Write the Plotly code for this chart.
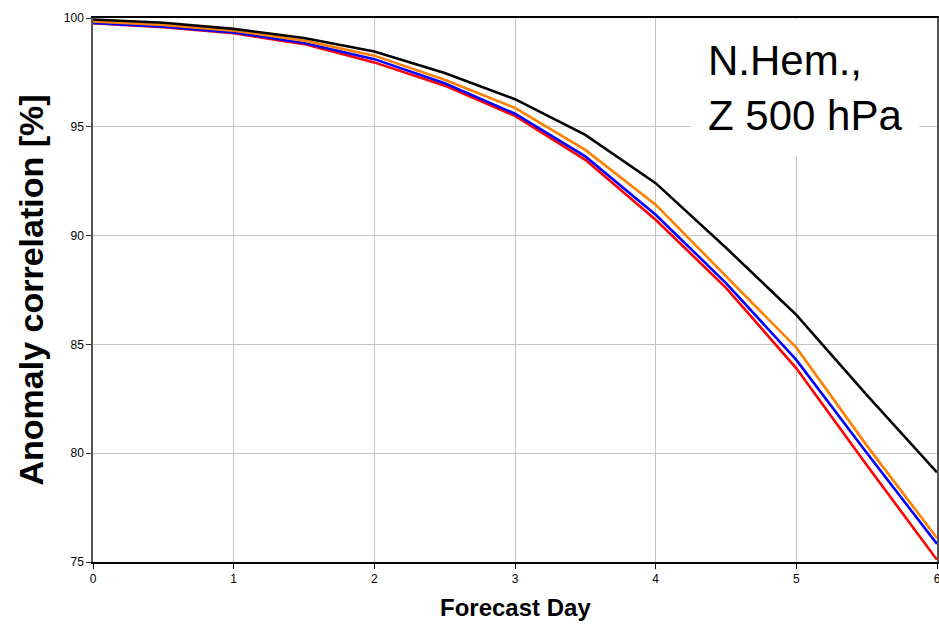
import plotly.graph_objects as go

days = [0, 0.5, 1, 1.5, 2, 2.5, 3, 3.5, 4, 4.5, 5, 5.5, 6]
black_vals = [99.93, 99.78, 99.5, 99.08, 98.46, 97.47, 96.27, 94.63, 92.41, 89.44, 86.36, 82.68, 79.12]
orange_vals = [99.84, 99.68, 99.42, 98.96, 98.27, 97.16, 95.87, 93.94, 91.42, 88.15, 84.85, 80.36, 76.1]
blue_vals = [99.77, 99.6, 99.34, 98.85, 98.11, 97.0, 95.6, 93.64, 90.96, 87.82, 84.29, 80.02, 75.83]
red_vals = [99.76, 99.58, 99.3, 98.8, 97.96, 96.89, 95.5, 93.48, 90.73, 87.6, 83.9, 79.46, 75.1]

series = [
    ("red", red_vals, "#ff0000"),
    ("blue", blue_vals, "#0000ff"),
    ("orange", orange_vals, "#ff8000"),
    ("black", black_vals, "#000000"),
]

x_ticks = [0, 1, 2, 3, 4, 5, 6]
y_ticks = [75, 80, 85, 90, 95, 100]

fig = go.Figure()
for name, vals, col in series:
    fig.add_trace(go.Scatter(x=days, y=vals, mode="lines", name=name,
                             line=dict(color=col, width=2.6), showlegend=False))

tick_font = dict(family="Liberation Sans, Arial", size=12, color="#000000")

fig.update_layout(
    width=939, height=624,
    margin=dict(l=92.5, r=1.5, t=18.3, b=62),
    paper_bgcolor="white", plot_bgcolor="white",
    xaxis=dict(range=[0, 6], tickvals=x_ticks, ticktext=[str(v) for v in x_ticks],
               automargin=False, ticklabeloverflow="allow",
               showgrid=True, gridcolor="#c4c4c4", gridwidth=1,
               showline=True, linecolor="#000000", linewidth=1.5, mirror=True,
               ticks="outside", ticklen=5, tickcolor="#000000",
               tickfont=tick_font, zeroline=False),
    yaxis=dict(range=[75, 100], tickvals=y_ticks, ticktext=[str(v) for v in y_ticks],
               automargin=False,
               showgrid=True, gridcolor="#c4c4c4", gridwidth=1,
               showline=True, linecolor="#555555", linewidth=1.5, mirror=True,
               ticks="outside", ticklen=5, tickcolor="#333333",
               tickfont=tick_font, zeroline=False),
)

fig.add_annotation(
    xref="paper", yref="paper", x=0.5, y=-0.083, xanchor="center", yanchor="middle",
    text="<b>Forecast Day</b>", showarrow=False,
    font=dict(family="Liberation Sans, Arial", size=24, color="#000000"),
)
fig.add_annotation(
    xref="paper", yref="paper", x=-0.074, y=0.5, xanchor="center", yanchor="middle",
    text="<b>Anomaly correlation [%]</b>", textangle=-90, showarrow=False,
    font=dict(family="Liberation Sans, Arial", size=34, color="#000000"),
)

fig.add_annotation(
    xref="paper", yref="paper", x=0.7075, y=0.998, xanchor="left", yanchor="top",
    text="N.Hem.,<br>Z 500 hPa", align="left", showarrow=False,
    font=dict(family="Liberation Sans, Arial", size=42, color="#000000"),
    bgcolor="white", borderpad=17,
)

fig.write_html("out.html", config={"displayModeBar": False},
               post_script="document.body.style.margin='0';")
